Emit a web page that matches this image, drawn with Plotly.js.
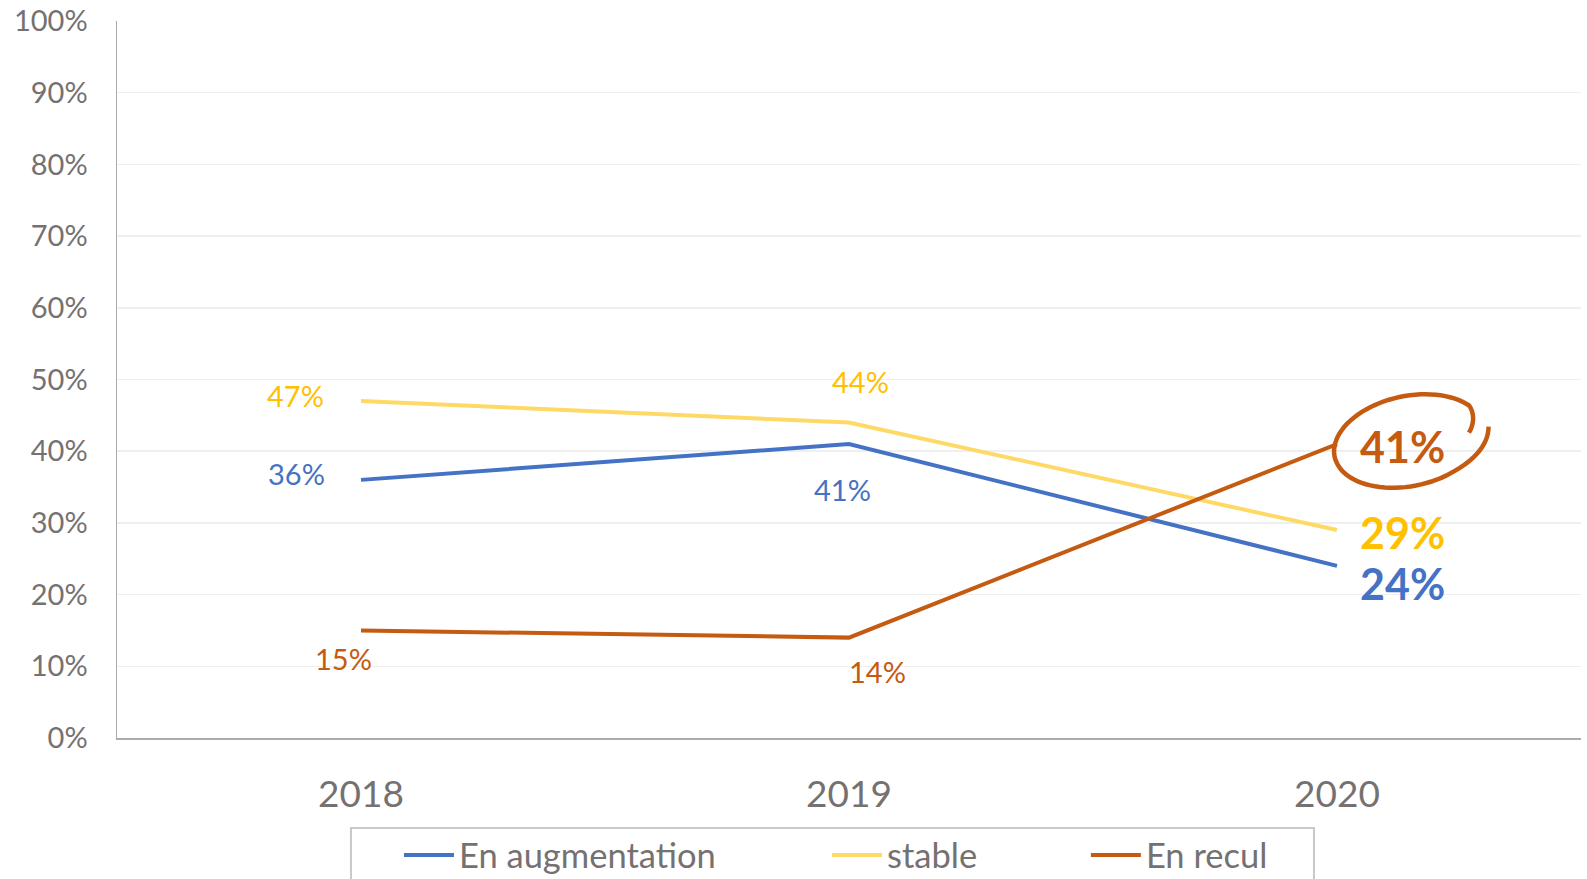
<!DOCTYPE html>
<html><head><meta charset="utf-8">
<script src="https://cdn.plot.ly/plotly-3.0.1.min.js"></script>
<style>html,body{margin:0;padding:0;background:#fff}#chart{width:1587px;height:879px}</style>
</head><body><div id="chart"></div>
<script>
// ---- data ----
const years = ['2018', '2019', '2020'];
const seriesNames = ['En augmentation', 'stable', 'En recul'];
const enAugmentation = [0.36, 0.41, 0.24];
const stable = [0.47, 0.44, 0.29];
const enRecul = [0.15, 0.14, 0.41];
const yTickVals = [0, 0.1, 0.2, 0.3, 0.4, 0.5, 0.6, 0.7, 0.8, 0.9, 1.0];
const yTickText = ['0%', '10%', '20%', '30%', '40%', '50%', '60%', '70%', '80%', '90%', '100%'];

// ---- styles ----
const seriesValues = [enAugmentation, stable, enRecul];
const lineColors = ['#4472C4', '#FFD966', '#C55A11'];
const labelColors = ['#4472C4', '#FFC000', '#C55A11'];
const labelShifts = [
  [[-65, 6], [-7, -45], [65, -18]],
  [[-66, 6], [11, 41], [65, -2]],
  [[-18, -28], [28, -34], [65, -2]]
];
const legendX = [0.1926, 0.4850, 0.6618];
const legendIds = ['legend', 'legend2', 'legend3'];
const FONT = 'Lato, "Open Sans", sans-serif';
const GREY = '#767171';

const traces = seriesValues.map((vals, i) => ({
  type: 'scatter', mode: 'lines', x: years, y: vals, name: seriesNames[i],
  line: {color: lineColors[i], width: 4},
  legend: legendIds[i], hoverinfo: 'skip'
}));

const annotations = [];
seriesValues.forEach((vals, i) => {
  vals.forEach((v, j) => {
    const big = j === years.length - 1;
    annotations.push({
      x: j, y: v, xref: 'x', yref: 'y', showarrow: false,
      text: big ? '<b>' + Math.round(v * 100) + '%</b>' : Math.round(v * 100) + '%',
      xshift: labelShifts[i][j][0], yshift: labelShifts[i][j][1],
      xanchor: 'center', yanchor: 'middle',
      font: {family: FONT, size: big ? 43 : 29, color: labelColors[i]}
    });
  });
});

// hand-drawn ring around the last "En recul" value (pixel offsets from the point)
function ringPath() {
  const cx = 72, cy = -3, a = 76, b = 45, phi = -0.21;
  const t0 = 0.05, t1 = 2 * Math.PI + 0.12, n = 90;
  let d = '';
  for (let k = 0; k <= n; k++) {
    const t = t0 + (t1 - t0) * k / n;
    let s = 1;
    if (t < 1) s = 1.065 - 0.065 * (t - t0) / (1 - t0);
    else if (t > 2 * Math.PI - 0.5) s = 1 - 0.2 * (t - (2 * Math.PI - 0.5)) / (t1 - (2 * Math.PI - 0.5));
    const lx = a * s * Math.cos(t), ly = b * s * Math.sin(t);
    const sx = cx + lx * Math.cos(phi) - ly * Math.sin(phi);
    const sy = cy + lx * Math.sin(phi) + ly * Math.cos(phi);
    d += (k === 0 ? 'M' : 'L') + sx.toFixed(1) + ',' + (-sy).toFixed(1);
  }
  return d;
}

const layout = {
  width: 1587, height: 879,
  margin: {l: 117, r: 6, t: 21, b: 141, pad: 0, autoexpand: false},
  paper_bgcolor: '#fff', plot_bgcolor: '#fff',
  font: {family: FONT, color: GREY},
  xaxis: {
    type: 'category', range: [-0.5, 2.5], showgrid: false, zeroline: false,
    showline: true, linecolor: '#ABABAB', linewidth: 1.5, ticks: '',
    tickfont: {family: FONT, size: 37, color: GREY}, ticklabelstandoff: 23,
    automargin: false, fixedrange: true
  },
  yaxis: {
    range: [0, 1], tickvals: yTickVals, ticktext: yTickText,
    showgrid: true, gridcolor: '#EFEFEF', gridwidth: 1.5, zeroline: false,
    showline: true, linecolor: '#ABABAB', linewidth: 1.5, ticks: '',
    tickfont: {family: FONT, size: 29, color: GREY}, ticklabelstandoff: 22,
    automargin: false, fixedrange: true
  },
  annotations: annotations,
  shapes: [
    {type: 'rect', xref: 'paper', yref: 'paper', x0: 0.1598, x1: 0.8176, y0: -0.1255, y1: -0.35,
     line: {color: '#C9C9C9', width: 2}, fillcolor: 'rgba(0,0,0,0)'},
    {type: 'path', xref: 'x', yref: 'y', xsizemode: 'pixel', ysizemode: 'pixel',
     xanchor: years.length - 1, yanchor: enRecul[2], path: ringPath(),
     line: {color: '#C55A11', width: 4.5}, fillcolor: 'rgba(0,0,0,0)'}
  ],
  showlegend: true
};
legendIds.forEach((id, i) => {
  layout[id] = {
    x: legendX[i], y: -0.1632, xanchor: 'left', yanchor: 'middle', orientation: 'h',
    bgcolor: 'rgba(0,0,0,0)', borderwidth: 0, itemwidth: 50,
    font: {family: FONT, size: 34.5, color: GREY}
  };
});

Plotly.newPlot('chart', traces, layout, {displayModeBar: false, staticPlot: true});
</script></body></html>
